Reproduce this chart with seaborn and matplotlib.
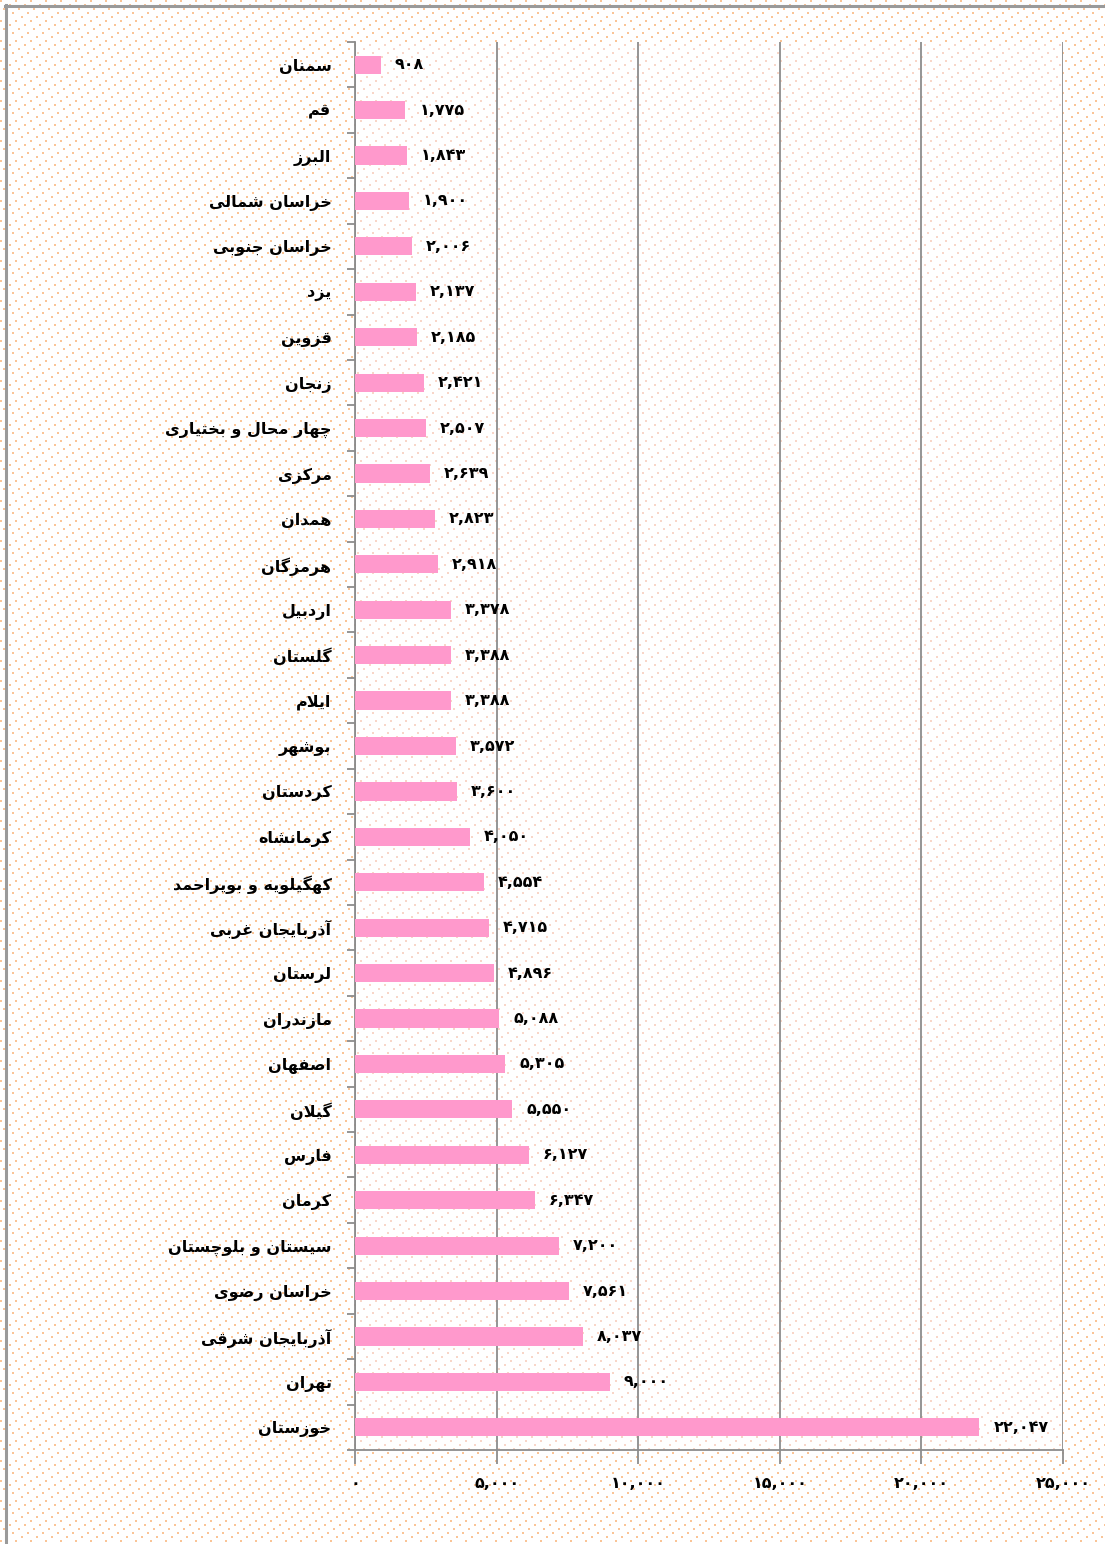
import numpy as np
import pandas as pd
import matplotlib
matplotlib.use("Agg")
import matplotlib.pyplot as plt
import seaborn as sns

# dados: provincias (de cima para baixo) e valores
provincias = ["سمنان", "قم", "البرز", "خراسان شمالی", "خراسان جنوبی", "یزد", "قزوین",
              "زنجان", "چهار محال و بختیاری", "مرکزی", "همدان", "هرمزگان", "اردبیل",
              "گلستان", "ایلام", "بوشهر", "کردستان", "کرمانشاه", "کهگیلویه و بویراحمد",
              "آذربایجان غربی", "لرستان", "مازندران", "اصفهان", "گیلان", "فارس", "کرمان",
              "سیستان و بلوچستان", "خراسان رضوی", "آذربایجان شرقی", "تهران", "خوزستان"]
valores = [908, 1775, 1843, 1900, 2006, 2137, 2185, 2421, 2507, 2639, 2823, 2918, 3378,
           3388, 3388, 3572, 3600, 4050, 4554, 4715, 4896, 5088, 5305, 5550, 6127, 6347,
           7200, 7561, 8037, 9000, 22047]
ticks_x = [0, 5000, 10000, 15000, 20000, 25000]

# formas de apresentacao arabes: isolada, final, inicial, medial
FORMAS = {
    'ا': '\uFE8D\uFE8E', 'آ': '\uFE81\uFE82', 'د': '\uFEA9\uFEAA', 'ذ': '\uFEAB\uFEAC',
    'ر': '\uFEAD\uFEAE', 'ز': '\uFEAF\uFEB0', 'ژ': '\uFB8A\uFB8B', 'و': '\uFEED\uFEEE',
    'ب': '\uFE8F\uFE90\uFE91\uFE92', 'پ': '\uFB56\uFB57\uFB58\uFB59',
    'ت': '\uFE95\uFE96\uFE97\uFE98', 'ث': '\uFE99\uFE9A\uFE9B\uFE9C',
    'ج': '\uFE9D\uFE9E\uFE9F\uFEA0', 'چ': '\uFB7A\uFB7B\uFB7C\uFB7D',
    'ح': '\uFEA1\uFEA2\uFEA3\uFEA4', 'خ': '\uFEA5\uFEA6\uFEA7\uFEA8',
    'س': '\uFEB1\uFEB2\uFEB3\uFEB4', 'ش': '\uFEB5\uFEB6\uFEB7\uFEB8',
    'ص': '\uFEB9\uFEBA\uFEBB\uFEBC', 'ض': '\uFEBD\uFEBE\uFEBF\uFEC0',
    'ط': '\uFEC1\uFEC2\uFEC3\uFEC4', 'ظ': '\uFEC5\uFEC6\uFEC7\uFEC8',
    'ع': '\uFEC9\uFECA\uFECB\uFECC', 'غ': '\uFECD\uFECE\uFECF\uFED0',
    'ف': '\uFED1\uFED2\uFED3\uFED4', 'ق': '\uFED5\uFED6\uFED7\uFED8',
    'ک': '\uFB8E\uFB8F\uFB90\uFB91', 'گ': '\uFB92\uFB93\uFB94\uFB95',
    'ل': '\uFEDD\uFEDE\uFEDF\uFEE0', 'م': '\uFEE1\uFEE2\uFEE3\uFEE4',
    'ن': '\uFEE5\uFEE6\uFEE7\uFEE8', 'ه': '\uFEE9\uFEEA\uFEEB\uFEEC',
    'ی': '\uFBFC\uFBFD\uFBFE\uFBFF',
}


def moldar(texto):
    # junta as letras e inverte para a ordem visual (direita para esquerda)
    saida = []
    i = 0
    while i < len(texto):
        c = texto[i]
        ant = texto[i - 1] if i > 0 else ' '
        liga_ant = c in FORMAS and len(FORMAS.get(ant, '')) == 4
        if c == 'ل' and i + 1 < len(texto) and texto[i + 1] in 'اآ':
            if texto[i + 1] == 'ا':
                saida.append('\uFEFC' if liga_ant else '\uFEFB')
            else:
                saida.append('\uFEF6' if liga_ant else '\uFEF5')
            i += 2
            continue
        if c not in FORMAS:
            saida.append(c)
            i += 1
            continue
        prox = texto[i + 1] if i + 1 < len(texto) else ' '
        f = FORMAS[c]
        liga_prox = len(f) == 4 and prox in FORMAS
        if liga_ant and liga_prox:
            saida.append(f[3])
        elif liga_ant:
            saida.append(f[1])
        elif liga_prox:
            saida.append(f[2])
        else:
            saida.append(f[0])
        i += 1
    return ''.join(saida)[::-1]


digitos = str.maketrans('0123456789', '۰۱۲۳۴۵۶۷۸۹')


def numero(v):
    return f"{v:,}".translate(digitos)


df = pd.DataFrame({'provincia': [moldar(p) for p in provincias], 'valor': valores})

W, H = 1105, 1544
fig = plt.figure(figsize=(W / 100, H / 100), dpi=100)
fig.patch.set_facecolor('white')

# fundo pontilhado
x0, x1, y0, y1 = 355, 1063, 42, 1450
yy, xx = np.mgrid[0:H, 0:W]
pontos = ((yy % 4) < 2) & (((xx + 6 * (yy // 4)) % 15) < 2)
dentro = (xx > x0) & (xx < x1) & (yy > y0) & (yy < y1)
fundo = np.ones((H, W, 3))
cor_fora = np.array([250, 196, 150]) / 255
cor_dentro = np.array([248, 214, 200]) / 255
fundo[pontos & ~dentro] = cor_fora
fundo[pontos & dentro] = cor_dentro
fig.figimage(fundo, 0, 0, zorder=-10)

ax = fig.add_axes([x0 / W, 1 - y1 / H, (x1 - x0) / W, (y1 - y0) / H])
ax.set_facecolor('none')

sns.barplot(data=df, y='provincia', x='valor', orient='h', color='#FF99CC',
            saturation=1, width=0.4, ax=ax, zorder=3)

fonte = ['DejaVu Sans']
for i, v in enumerate(valores):
    ax.annotate(numero(v), (v, i), xytext=(14, 0), textcoords='offset pixels',
                ha='left', va='center', fontsize=11.5, fontweight='bold',
                family=fonte, color='black')

ax.set_xlim(0, 25000)
ax.set_ylim(len(valores) - 0.5, -0.5)
ax.set_xticks(ticks_x)
ax.set_xticklabels([numero(t) for t in ticks_x], fontsize=11.5, fontweight='bold',
                   family=fonte)
ax.set_yticks(range(len(provincias)))
ax.set_yticklabels(df['provincia'], fontsize=11.5, fontweight='bold', family=fonte)
ax.set_yticks(np.arange(-0.5, len(provincias), 1), minor=True)

ax.tick_params(axis='y', which='major', length=0, pad=17)
ax.tick_params(axis='y', which='minor', length=6, width=1.3, color='#8c8c8c')
ax.tick_params(axis='x', length=10, width=1.3, color='#8c8c8c', pad=9)
ax.set_xlabel('')
ax.set_ylabel('')

ax.grid(axis='x', color='#8c8c8c', linewidth=1.3, zorder=1)
ax.set_axisbelow(True)
for lado in ['top', 'right']:
    ax.spines[lado].set_visible(False)
for lado in ['left', 'bottom']:
    ax.spines[lado].set_color('#8c8c8c')
    ax.spines[lado].set_linewidth(1.3)

# borda cinza em cima e a esquerda
fig.add_artist(plt.Line2D([6 / W, 6 / W], [0, 1 - 5 / H], color='#9a9a9a', linewidth=2.2))
fig.add_artist(plt.Line2D([5 / W, 1], [1 - 6 / H, 1 - 6 / H], color='#9a9a9a', linewidth=2.2))

fig.savefig('out.png', dpi=100)
